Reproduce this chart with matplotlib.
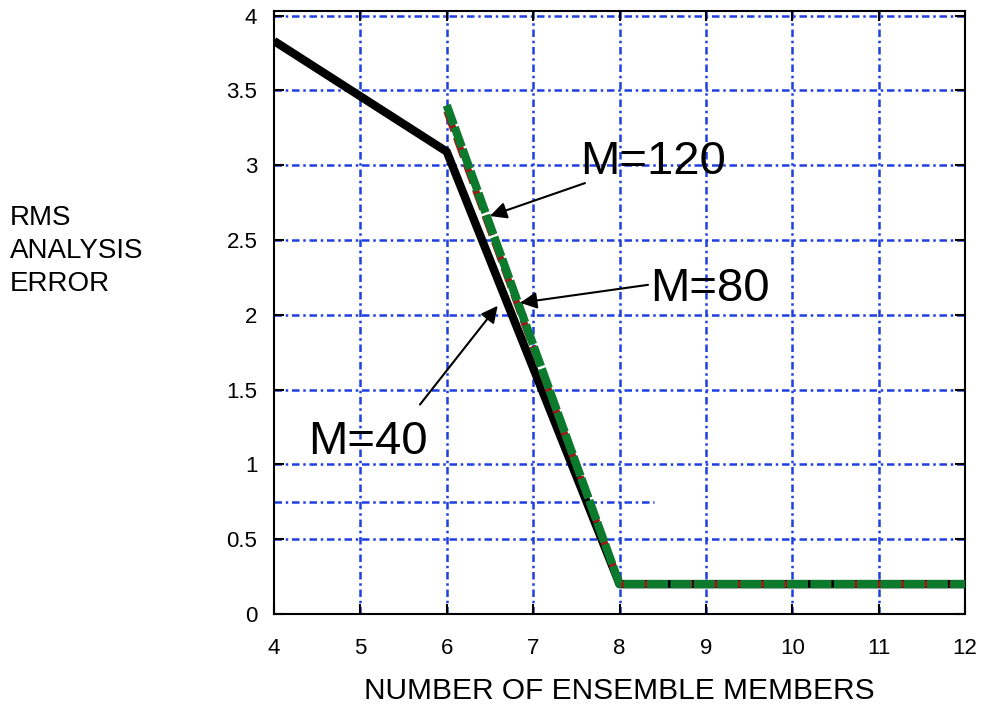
import numpy as np
import matplotlib
matplotlib.use("Agg")
import matplotlib.pyplot as plt

plt.rcParams['font.family'] = ['Liberation Sans', 'DejaVu Sans']

# data
m40_x = [4, 6, 8, 12]
m40_y = [3.83, 3.09, 0.2, 0.2]
m80_x = [6, 8, 12]
m80_y = [3.36, 0.2, 0.2]
m120_x = [6, 8, 12]
m120_y = [3.40, 0.2, 0.2]

xticks = [4, 5, 6, 7, 8, 9, 10, 11, 12]
yticks = [0, 0.5, 1, 1.5, 2, 2.5, 3, 3.5, 4]
ytick_labels = ['0', '0.5', '1', '1.5', '2', '2.5', '3', '3.5', '4']

grid_blue = '#1f3fe0'
dashdot = (0, (3, 1.5, 1, 1.5))

fig = plt.figure(figsize=(9.81, 7.11), dpi=100)
ax = fig.add_axes([0.2793, 0.1364, 0.7044, 0.8481])

ax.set_xlim(4, 12)
ax.set_ylim(0, 4.03)

# grid
for x in xticks[1:-1]:
    ax.axvline(x, color=grid_blue, lw=1.8, ls=dashdot, zorder=1)
for y in yticks[1:]:
    ax.axhline(y, color=grid_blue, lw=1.8, ls=dashdot, zorder=1)
# stray partial grid line
ax.plot([4, 8.4], [0.75, 0.75], color=grid_blue, lw=1.8, ls=dashdot, zorder=1)

ax.plot(m40_x, m40_y, color='black', lw=6, solid_capstyle='butt', zorder=3)
ax.plot(m80_x, m80_y, color='#a01818', lw=5, ls=(0, (3, 1)), zorder=4)
ax.plot(m120_x, m120_y, color='#0b7a2c', lw=6, ls=(0, (2.5, 0.3)), zorder=5)

ax.set_xticks(xticks)
ax.set_yticks(yticks)
ax.set_yticklabels(ytick_labels)
ax.tick_params(direction='in', length=7, width=1.5, labelsize=16, pad=12,
               top=True, right=True)
ax.tick_params(axis='x', pad=17)
for s in ax.spines.values():
    s.set_linewidth(1.5)

ax.set_xlabel('NUMBER OF ENSEMBLE MEMBERS', fontsize=21.5, labelpad=13)
fig.text(0.01, 0.647, 'RMS\nANALYSIS\nERROR', fontsize=20, va='center',
         ha='left', linespacing=1.35)

arrow = dict(arrowstyle='-|>', color='black', lw=1.5, mutation_scale=25,
             shrinkA=0, shrinkB=0)
ax.annotate('', xy=(6.50, 2.66), xytext=(7.60, 2.88), arrowprops=arrow, zorder=6)
ax.annotate('', xy=(6.85, 2.08), xytext=(8.33, 2.20), arrowprops=arrow, zorder=6)
ax.annotate('', xy=(6.59, 2.06), xytext=(5.69, 1.40), arrowprops=arrow, zorder=6)
ax.text(7.54, 3.02, 'M=120', fontsize=34, va='center', ha='left', zorder=7)
ax.text(8.35, 2.17, 'M=80', fontsize=34, va='center', ha='left', zorder=7)
ax.text(4.39, 1.15, 'M=40', fontsize=34, va='center', ha='left', zorder=7)

fig.savefig('out.png', dpi=100)
